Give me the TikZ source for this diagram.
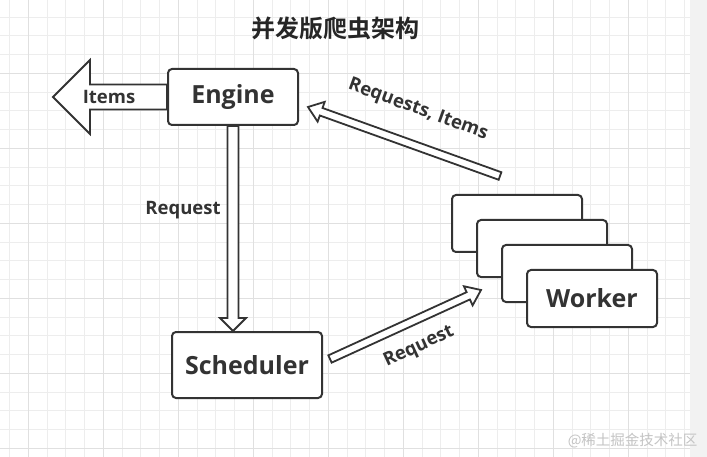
\documentclass[tikz,border=0pt]{standalone}
\usepackage{fontspec}
\setmainfont{Open Sans}
\newfontfamily\cjk{Noto Sans CJK SC}[BoldFont={Noto Sans CJK SC Bold}]
\usetikzlibrary{calc,positioning}
\definecolor{inkgray}{HTML}{333333}
\definecolor{gridminor}{HTML}{EDEDED}
\definecolor{gridmajor}{HTML}{E0E0E0}
\definecolor{stripgray}{HTML}{F2F2F2}
\definecolor{wmgray}{HTML}{C4C4C4}
\newcommand{\blockarrow}[5]{%
  \coordinate (ahbase) at ($(#2)!#5!(#1)$);
  \draw[arrowline] ($(#1)!#3!90:(#2)$) -- ($(ahbase)!#3!90:(#2)$) -- ($(ahbase)!#4!90:(#2)$) -- (#2)
    -- ($(ahbase)!#4!-90:(#2)$) -- ($(ahbase)!#3!-90:(#2)$) -- ($(#1)!#3!-90:(#2)$) -- cycle;}

\begin{document}
\begin{tikzpicture}[x=1pt, y=-1pt,
    box/.style={draw=inkgray, line width=2pt, rounded corners=4pt, fill=white, minimum width=130pt, minimum height=57pt, inner sep=0pt, text=inkgray, font=\bfseries\fontsize{25}{30}\selectfont},
    arrowline/.style={draw=inkgray, line width=1.8pt, fill=white, line join=miter},
    lbl/.style={text=inkgray, inner sep=0pt, font=\bfseries\fontsize{18.5}{22}\selectfont}]
    \useasboundingbox (0,0) rectangle (707,457);
    \fill[white] (0,0) rectangle (690,457);
    \fill[stripgray] (690,0) rectangle (707,457);
    \foreach \i in {0,...,36} \draw[gridminor, line width=0.9pt] (9.6+18.75*\i,0) -- (9.6+18.75*\i,457);
    \foreach \j in {1,...,24} \draw[gridminor, line width=0.9pt] (0,-1.6+18.75*\j) -- (690,-1.6+18.75*\j);
    \foreach \i in {0,...,8} \draw[gridmajor, line width=0.9pt] (28.35+75*\i,0) -- (28.35+75*\i,457);
    \foreach \j in {0,...,5} \draw[gridmajor, line width=0.9pt] (0,73.4+75*\j) -- (690,73.4+75*\j);

    \node[font=\cjk\bfseries\fontsize{24}{28}\selectfont, text=black!85] (title) at (335,28) {并发版爬虫架构};

    \node[box, minimum height=56pt] (engine) at (233,97) {Engine};
    \node[box, minimum width=150pt, minimum height=66pt] (scheduler) at (247,365) {Scheduler};
    \node[box] (worker1) at (517,223.5) {};
    \node[box] (worker2) at (542,248.5) {};
    \node[box] (worker3) at (567,273.5) {};
    \node[box] (worker4) at (592,298.5) {Worker};

    \coordinate (itemstip) at (53,97);
    \blockarrow{engine.west}{itemstip}{12.5pt}{37pt}{37pt}
    \node[lbl] (itemslbl) at (109,97) {Items};

    \coordinate (schedtop) at (engine.south |- scheduler.north);
    \blockarrow{engine.south}{schedtop}{5.5pt}{13pt}{13pt}
    \node[lbl] (reqlbl) at (183,210) {Request};

    \coordinate (sendtail) at (330,359);
    \coordinate (sendtip) at (481,290);
    \blockarrow{sendtail}{sendtip}{4pt}{10.5pt}{14pt}
    \node[lbl, rotate=25] (sendlbl) at (419,347) {Request};

    \coordinate (backtail) at (500,176);
    \coordinate (backtip) at (308,107);
    \blockarrow{backtail}{backtip}{4pt}{10.5pt}{14pt}
    \node[lbl, rotate=-20] (backlbl) at (418,110) {Requests, Items};

    \node[font=\cjk\fontsize{14.5}{17}\selectfont, text=wmgray, anchor=east] (mark) at (701,441) {@稀土掘金技术社区};
\end{tikzpicture}
\end{document}
